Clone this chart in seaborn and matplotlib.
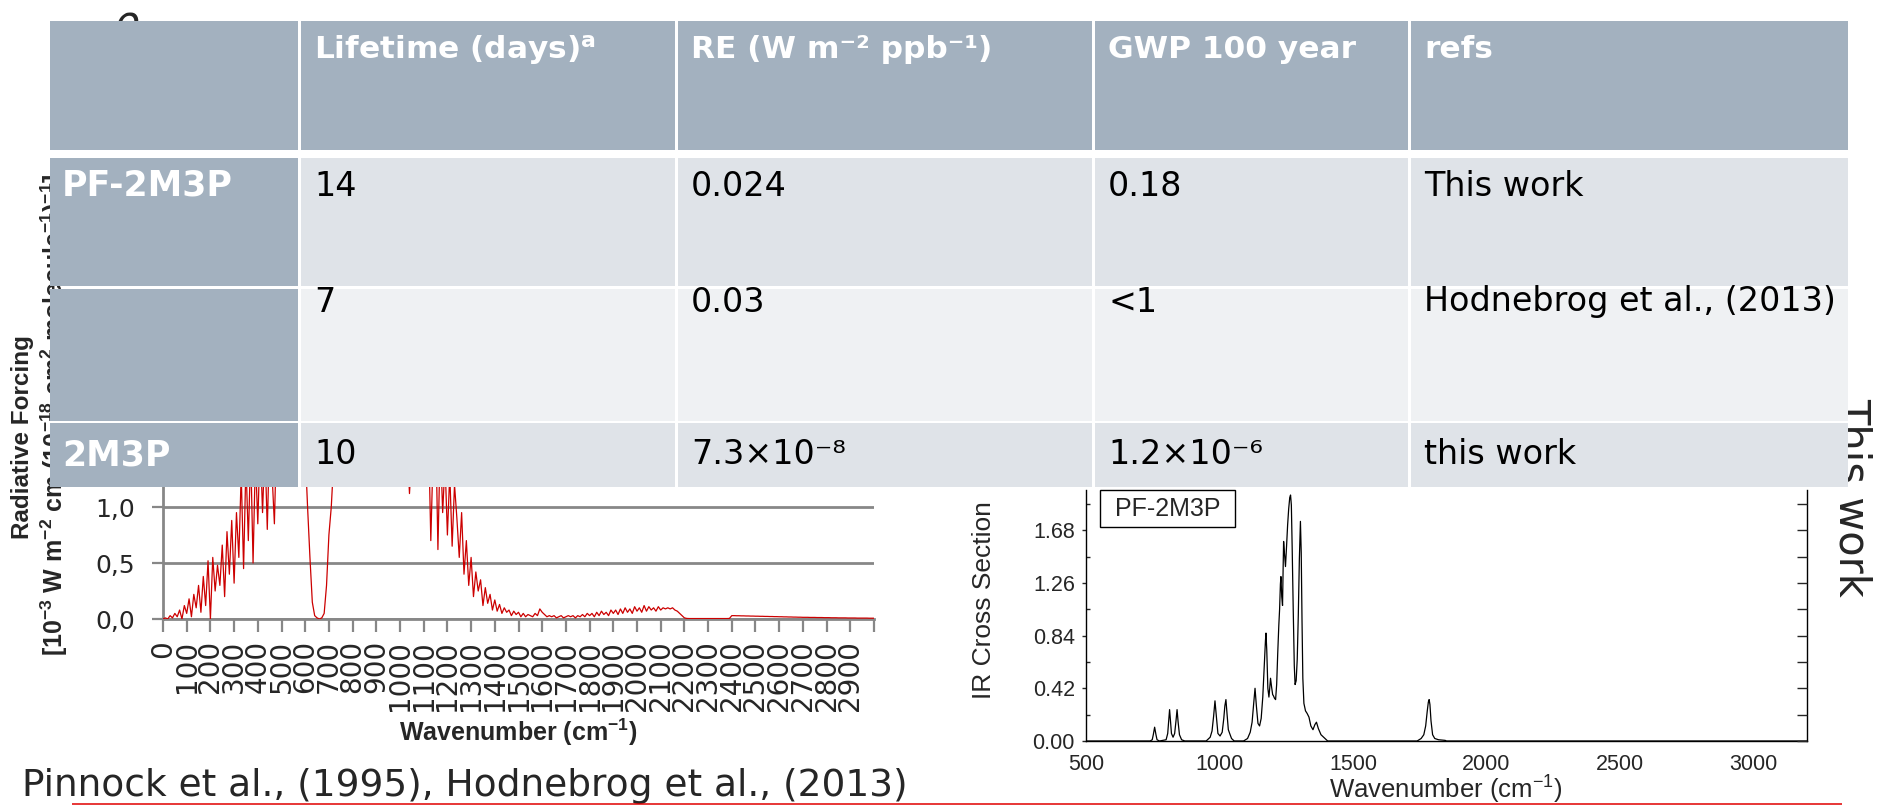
import logging
import numpy as np
import pandas as pd
import matplotlib
matplotlib.use("Agg")
import matplotlib.pyplot as plt
from matplotlib import font_manager as fm
from matplotlib.patches import Rectangle
from matplotlib.ticker import MultipleLocator
import seaborn as sns

logging.getLogger("matplotlib.font_manager").setLevel(logging.ERROR)

# ---------------- data ----------------
# Left chart: Pinnock radiative forcing curve, sampled every 10 cm-1 from 0 to 3000
rf_wavenumber = list(range(0, 3001, 10))
rf_values = [
    0.00, 0.01, 0.00, 0.03, 0.01, 0.05, 0.02, 0.08, 0.00, 0.12,   # 0-90
    0.05, 0.18, 0.02, 0.22, 0.10, 0.30, 0.06, 0.38, 0.12, 0.52,   # 100-190
    0.00, 0.55, 0.25, 0.48, 0.30, 0.66, 0.20, 0.78, 0.40, 0.88,   # 200-290
    0.32, 0.95, 0.55, 1.30, 0.45, 1.40, 0.70, 1.50, 0.50, 1.45,   # 300-390
    0.85, 1.60, 0.95, 1.55, 0.80, 1.65, 1.30, 0.85, 1.70, 1.60,   # 400-490
    1.80, 1.90, 1.85, 2.00, 1.95, 2.00, 1.90, 1.85, 1.90, 1.80,   # 500-590
    1.50, 1.00, 0.55, 0.15, 0.03, 0.01, 0.00, 0.01, 0.05, 0.30,   # 600-690
    0.75, 1.00, 1.40, 1.70, 1.90, 2.00, 2.10, 2.20, 2.30, 2.40,   # 700-790
    2.50, 2.60, 2.60, 2.70, 2.70, 2.80, 2.80, 2.80, 2.90, 2.90,   # 800-890
    2.90, 2.80, 2.80, 2.70, 2.60, 2.50, 2.40, 2.30, 2.20, 2.10,   # 900-990
    2.00, 1.90, 1.80, 1.60, 1.12, 1.50, 1.80, 1.90, 1.95, 1.90,   # 1000-1090
    1.60, 1.40, 1.70, 0.70, 1.50, 1.80, 0.62, 1.60, 0.95, 1.40,   # 1100-1190
    0.75, 1.30, 0.65, 1.20, 0.90, 0.55, 0.95, 0.40, 0.70, 0.30,   # 1200-1290
    0.55, 0.20, 0.42, 0.25, 0.35, 0.12, 0.28, 0.14, 0.22, 0.08,   # 1300-1390
    0.17, 0.07, 0.13, 0.05, 0.10, 0.06, 0.08, 0.03, 0.07, 0.04,   # 1400-1490
    0.06, 0.02, 0.05, 0.02, 0.04, 0.03, 0.02, 0.05, 0.03, 0.09,   # 1500-1590
    0.06, 0.04, 0.02, 0.03, 0.02, 0.03, 0.01, 0.02, 0.03, 0.01,   # 1600-1690
    0.02, 0.03, 0.02, 0.03, 0.01, 0.03, 0.02, 0.04, 0.02, 0.05,   # 1700-1790
    0.03, 0.05, 0.02, 0.06, 0.03, 0.07, 0.04, 0.06, 0.03, 0.08,   # 1800-1890
    0.05, 0.08, 0.04, 0.09, 0.05, 0.10, 0.06, 0.09, 0.05, 0.11,   # 1900-1990
    0.07, 0.10, 0.06, 0.12, 0.07, 0.11, 0.08, 0.10, 0.07, 0.11,   # 2000-2090
    0.08, 0.10, 0.09, 0.10, 0.09, 0.10, 0.08, 0.07, 0.05, 0.03,   # 2100-2190
    0.010, 0.005, 0.004, 0.004, 0.004, 0.004, 0.004, 0.004, 0.004, 0.004,  # 2200-2290
    0.004, 0.004, 0.004, 0.004, 0.004, 0.004, 0.004, 0.004, 0.004, 0.005,  # 2300-2390
    0.030, 0.030, 0.029, 0.029, 0.028, 0.028, 0.027, 0.027, 0.026, 0.026,  # 2400-2490
    0.025, 0.025, 0.024, 0.024, 0.023, 0.023, 0.022, 0.022, 0.021, 0.021,  # 2500-2590
    0.020, 0.020, 0.019, 0.019, 0.018, 0.018, 0.017, 0.017, 0.016, 0.016,  # 2600-2690
    0.015, 0.015, 0.015, 0.014, 0.014, 0.014, 0.013, 0.013, 0.013, 0.012,  # 2700-2790
    0.012, 0.012, 0.011, 0.011, 0.011, 0.010, 0.010, 0.010, 0.010, 0.009,  # 2800-2890
    0.009, 0.009, 0.009, 0.008, 0.008, 0.008, 0.008, 0.008, 0.007, 0.007,  # 2900-2990
    0.007,                                                                 # 3000
]
rf_tick_values = list(range(0, 3001, 100))
rf_tick_labels = [str(v) for v in range(0, 3000, 100)] + [""]
rf_ytick_values = [0.0, 0.5, 1.0]
rf_ytick_labels = ["0,0", "0,5", "1,0"]

# Right chart: PF-2M3P IR cross section
ir_wn = [500, 740, 748, 752, 757, 762, 766, 775, 800, 806, 810, 813, 816, 820, 826,
         832, 837, 841, 845, 850, 858, 870, 950, 965, 972, 978, 983, 988, 994, 1002,
         1010, 1016, 1020, 1024, 1028, 1033, 1038, 1045, 1055, 1090, 1105, 1115, 1122,
         1128, 1133, 1138, 1144, 1150, 1156, 1162, 1168, 1172, 1174, 1177, 1181, 1185,
         1188, 1191, 1195, 1199, 1202, 1206, 1210, 1214, 1218, 1222, 1225, 1228, 1230,
         1233, 1236, 1238, 1240, 1243, 1247, 1251, 1255, 1259, 1263, 1266, 1269, 1272,
         1276, 1280, 1283, 1287, 1291, 1295, 1299, 1303, 1306, 1309, 1312, 1316, 1322,
         1328, 1335, 1342, 1350, 1357, 1363, 1370, 1380, 1395, 1405, 1700, 1740, 1755,
         1765, 1772, 1778, 1782, 1785, 1788, 1792, 1798, 1806, 1820, 1845, 1850, 3200]
ir_val = [0.0, 0.0, 0.01, 0.05, 0.11, 0.05, 0.01, 0.0, 0.01, 0.06, 0.17, 0.25, 0.17, 0.06, 0.03,
          0.06, 0.16, 0.25, 0.15, 0.05, 0.01, 0.0, 0.0, 0.03, 0.08, 0.20, 0.32, 0.20, 0.06, 0.04,
          0.07, 0.18, 0.28, 0.33, 0.22, 0.09, 0.06, 0.02, 0.0, 0.0, 0.02, 0.07, 0.15,
          0.30, 0.42, 0.28, 0.14, 0.12, 0.18, 0.35, 0.62, 0.80, 0.86, 0.72, 0.42, 0.35,
          0.42, 0.50, 0.43, 0.37, 0.36, 0.34, 0.33, 0.45, 0.70, 0.92, 1.05, 1.25, 1.31,
          1.15, 1.08, 1.35, 1.59, 1.50, 1.39, 1.55, 1.72, 1.85, 1.94, 1.96, 1.88, 1.55,
          1.05, 0.60, 0.45, 0.48, 0.65, 1.00, 1.45, 1.75, 1.50, 0.95, 0.50, 0.30, 0.24,
          0.22, 0.19, 0.12, 0.09, 0.13, 0.15, 0.10, 0.05, 0.02, 0.0, 0.0, 0.0, 0.02,
          0.05, 0.12, 0.24, 0.31, 0.33, 0.29, 0.16, 0.05, 0.02, 0.01, 0.005, 0.0, 0.0]
ir_xticks = [500, 1000, 1500, 2000, 2500, 3000]
ir_yticks = [0.00, 0.42, 0.84, 1.26, 1.68]

# Table content
table_header = ["", "Lifetime (days)$^{a}$", "RE (W m\u207b\u00b2 ppb\u207b\u00b9)", "GWP 100 year", "refs"]
compounds = ["PF-2M3P", "", "2M3P"]
lifetimes = ["14", "7", "10"]
re_values = ["0.024", "0.03", "7.3\u00d710\u207b\u2078"]
gwp_values = ["0.18", "<1", "1.2\u00d710\u207b\u2076"]
refs = ["This work", "Hodnebrog et al., (2013)", "this work"]

assert len(rf_values) == len(rf_wavenumber)
assert len(ir_wn) == len(ir_val)

# ---------------- style ----------------
sns.set_style("white")
plt.rcParams["font.family"] = ["DejaVu Sans"]
plt.rcParams["mathtext.default"] = "regular"

names = {f.name for f in fm.fontManager.ttflist}
ARIAL = "Liberation Sans" if "Liberation Sans" in names else "DejaVu Sans"
NARROW = "Liberation Sans Narrow" if "Liberation Sans Narrow" in names else ARIAL

W, H, DPI = 1881, 806, 100
fig = plt.figure(figsize=(W / DPI, H / DPI), dpi=DPI)
fig.patch.set_facecolor("white")


def px_axes(x0, y0, x1, y1, **kw):
    return fig.add_axes([x0 / W, 1 - y1 / H, (x1 - x0) / W, (y1 - y0) / H], **kw)


GRAY = "#878787"

# ---------------- left chart ----------------
axL = px_axes(163, 487, 874, 619, zorder=1)
dfL = pd.DataFrame({"wn": rf_wavenumber, "rf": rf_values})
sns.lineplot(data=dfL, x="wn", y="rf", ax=axL, color="#cc0000", lw=0.9,
             estimator=None, sort=False, zorder=3)
axL.set_xlim(0, 3000)
axL.set_ylim(0, (619 - 487) / 112)
axL.set_xticks(rf_tick_values)
axL.set_xticklabels(rf_tick_labels)
axL.set_yticks(rf_ytick_values)
axL.set_yticklabels(rf_ytick_labels)
axL.set_xlabel("")
axL.set_ylabel("")
axL.set_axisbelow(True)
axL.yaxis.grid(True, color=GRAY, lw=2.0)
axL.xaxis.grid(False)
for s in ["top", "right"]:
    axL.spines[s].set_visible(False)
for s in ["left", "bottom"]:
    axL.spines[s].set_color(GRAY)
    axL.spines[s].set_linewidth(2.0)
axL.tick_params(axis="x", direction="out", length=9, width=1.6, color=GRAY,
                labelsize=20, labelrotation=90, pad=6, bottom=True)
axL.tick_params(axis="y", direction="out", length=8, width=1.6, color=GRAY,
                labelsize=18, pad=12, left=True)
axL.patch.set_visible(False)

# ---------------- right chart ----------------
axR = px_axes(1086, 490, 1807, 741, zorder=1)
sns.lineplot(x=ir_wn, y=ir_val, ax=axR, color="black", lw=0.9)
axR.set_xlim(500, 3200)
axR.set_ylim(0, 2.0)
axR.set_xticks(ir_xticks)
axR.set_xticklabels([str(v) for v in ir_xticks])
axR.xaxis.set_minor_locator(MultipleLocator(250))
axR.set_yticks(ir_yticks)
axR.set_yticklabels([f"{v:.2f}" for v in ir_yticks])
axR.yaxis.set_minor_locator(MultipleLocator(0.21))
axR.set_xlabel("")
axR.set_ylabel("")
axR.spines["top"].set_visible(False)
for s in ["left", "bottom", "right"]:
    axR.spines[s].set_color("black")
    axR.spines[s].set_linewidth(1.0)
axR.tick_params(axis="x", which="major", direction="in", length=8, width=1,
                labelsize=15.5, pad=9, labelfontfamily=ARIAL)
axR.tick_params(axis="x", which="minor", direction="in", length=4, width=1)
axR.tick_params(axis="y", which="major", direction="out", length=3, width=1,
                labelsize=15.5, pad=5, labelfontfamily=ARIAL, right=False)
axR.tick_params(axis="y", which="minor", direction="in", length=3, width=1, right=False)
axR.tick_params(axis="both", which="both", top=False)
axR2 = axR.twinx()
axR2.set_ylim(0, 2.0)
axR2.yaxis.set_major_locator(MultipleLocator(0.21))
axR2.tick_params(axis="y", direction="in", length=7, width=1, labelright=False)
for s in axR2.spines.values():
    s.set_visible(False)

# ---------------- overlay (texts, table) ----------------
ov = fig.add_axes([0, 0, 1, 1], zorder=10)
ov.set_xlim(0, W)
ov.set_ylim(H, 0)
ov.axis("off")
ov.patch.set_visible(False)

# items partly hidden by the table
ov.text(126, 3, "\u03c1", fontsize=30, style="italic", ha="center", va="top", zorder=1)
ov.text(22, 539, "Radiative Forcing", rotation=90, rotation_mode="anchor",
        ha="left", va="center", fontsize=17.5, fontweight="bold", family=NARROW, zorder=1)
ov.text(54, 656, "[10$^{-3}$ W m$^{-2}$ cm (10$^{-18}$ cm$^{2}$ molecule$^{-1}$)$^{-1}$]",
        rotation=90, rotation_mode="anchor", ha="left", va="center", fontsize=18,
        fontweight="bold", family=NARROW, zorder=1)
ov.text(1840, 398, "This work", rotation=-90, rotation_mode="anchor", ha="left",
        va="baseline", fontsize=30, zorder=1)

# axis labels
ov.text(518, 732, "Wavenumber (cm$^{-1}$)", ha="center", va="center", fontsize=18,
        fontweight="bold", family=NARROW, zorder=4)
ov.text(1446, 790, "Wavenumber (cm$^{-1}$)", ha="center", va="center", fontsize=18.5,
        family=ARIAL, zorder=4)
ov.text(984, 600, "IR Cross Section", rotation=90, ha="center", va="center",
        fontsize=19, family=ARIAL, zorder=4)

# legend box in right chart
ov.add_patch(Rectangle((1100, 490), 135, 37, fc="white", ec="black", lw=1, zorder=4))
ov.text(1167.5, 509, "PF-2M3P", ha="center", va="center", fontsize=18, family=ARIAL, zorder=5)

# references and bottom rule
ov.text(22, 796, "Pinnock et al., (1995), Hodnebrog et al., (2013)", ha="left",
        va="baseline", fontsize=27, zorder=4)
ov.plot([72, 1842], [804, 804], color="#e00000", lw=1.1, zorder=4, solid_capstyle="butt")

# table
col_edges = [(50, 298), (301, 675), (678, 1092), (1095, 1408), (1411, 1848)]
row_edges = [(21, 150), (158, 286), (289, 421), (423, 487)]
HEAD = "#a3b1bf"
row_fill = ["#dfe3e8", "#eff1f3", "#dfe3e8"]
text_y = [50, 186, 302, 455]

for j, (x0, x1) in enumerate(col_edges):
    y0, y1 = row_edges[0]
    ov.add_patch(Rectangle((x0, y0), x1 - x0, y1 - y0, fc=HEAD, ec="none", zorder=2))
    if table_header[j]:
        ov.text(x0 + 13, text_y[0], table_header[j], ha="left", va="center", color="white",
                fontsize=22.5, fontweight="bold", zorder=3)

body = list(zip(compounds, lifetimes, re_values, gwp_values, refs))
for i, row in enumerate(body):
    y0, y1 = row_edges[i + 1]
    for j, (x0, x1) in enumerate(col_edges):
        fc = HEAD if j == 0 else row_fill[i]
        ov.add_patch(Rectangle((x0, y0), x1 - x0, y1 - y0, fc=fc, ec="none", zorder=2))
        if row[j]:
            if j == 0:
                ov.text(x0 + 12, text_y[i + 1], row[j], ha="left", va="center", color="white",
                        fontsize=25, fontweight="bold", zorder=3)
            else:
                ov.text(x0 + 13, text_y[i + 1], row[j], ha="left", va="center", color="black",
                        fontsize=24, zorder=3)

fig.savefig("out.png", dpi=DPI)
